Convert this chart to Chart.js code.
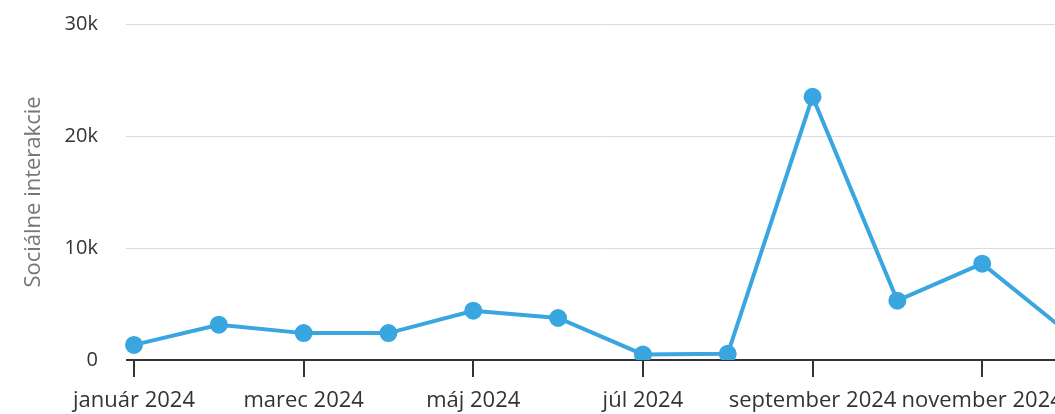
<!DOCTYPE html>
<html>
<head>
<meta charset="utf-8">
<script src="https://cdn.jsdelivr.net/npm/chart.js@4"></script>
<style>
  html, body { margin: 0; padding: 0; background: #fff; overflow: hidden; }
  #wrap { width: 1100px; height: 414px; }
</style>
</head>
<body>
<div id="wrap"><canvas id="graf"></canvas></div>
<script>
const mesiace = ["január 2024", "február 2024", "marec 2024", "apríl 2024", "máj 2024", "jún 2024",
    "júl 2024", "august 2024", "september 2024", "október 2024", "november 2024", "december 2024"];
const interakcie = [1350, 3150, 2400, 2400, 4400, 3750, 500, 550, 23500, 5300, 8600, 2500];
const yTicky = [0, 10000, 20000, 30000];

const modra = "rgb(57, 166, 224)";
const pismo = "'Open Sans', 'Noto Sans', sans-serif";

new Chart(document.getElementById("graf").getContext("2d"), {
    type: "line",
    data: {
        labels: mesiace,
        datasets: [{
            label: "Sociálne interakcie",
            data: interakcie,
            borderColor: modra,
            backgroundColor: modra,
            borderWidth: 4,
            pointRadius: 7,
            pointHoverRadius: 7,
            tension: 0
        }]
    },
    options: {
        responsive: true,
        maintainAspectRatio: false,
        animation: false,
        layout: { padding: { top: 24, right: 33, bottom: 0, left: 0 } },
        plugins: { legend: { display: false }, tooltip: { enabled: false } },
        scales: {
            x: {
                afterFit: s => { s.height = 54; s.paddingLeft = 0; s.paddingRight = 0; },
                border: { display: false },
                grid: {
                    drawOnChartArea: false,
                    tickLength: 17,
                    lineWidth: 2,
                    color: ctx => ctx.index % 2 === 0 ? "#333" : "rgba(0,0,0,0)"
                },
                ticks: {
                    autoSkip: false,
                    maxRotation: 0,
                    padding: 11,
                    color: "#333",
                    font: { family: pismo, size: 22 },
                    callback: (v, i) => i % 2 === 0 ? mesiace[i] : ""
                }
            },
            y: {
                min: 0,
                max: 30000,
                afterFit: s => { s.width = 134; s.paddingTop = 0; s.paddingBottom = 0; },
                afterBuildTicks: s => { s.ticks = yTicky.map(v => ({ value: v })); },
                border: { display: false },
                grid: {
                    tickLength: 8,
                    color: ctx => ctx.tick && ctx.tick.value === 0 ? "#333" : "#dcdcdc",
                    lineWidth: ctx => ctx.tick && ctx.tick.value === 0 ? 2 : 1
                },
                ticks: {
                    padding: 28,
                    color: "#333",
                    font: { family: pismo, size: 20 },
                    callback: v => v === 0 ? "0" : (v / 1000) + "k"
                },
                title: {
                    display: true,
                    text: "Sociálne interakcie",
                    color: "#777",
                    padding: { top: 21, bottom: 0 },
                    font: { family: pismo, size: 22 }
                }
            }
        }
    }
});
</script>
</body>
</html>
